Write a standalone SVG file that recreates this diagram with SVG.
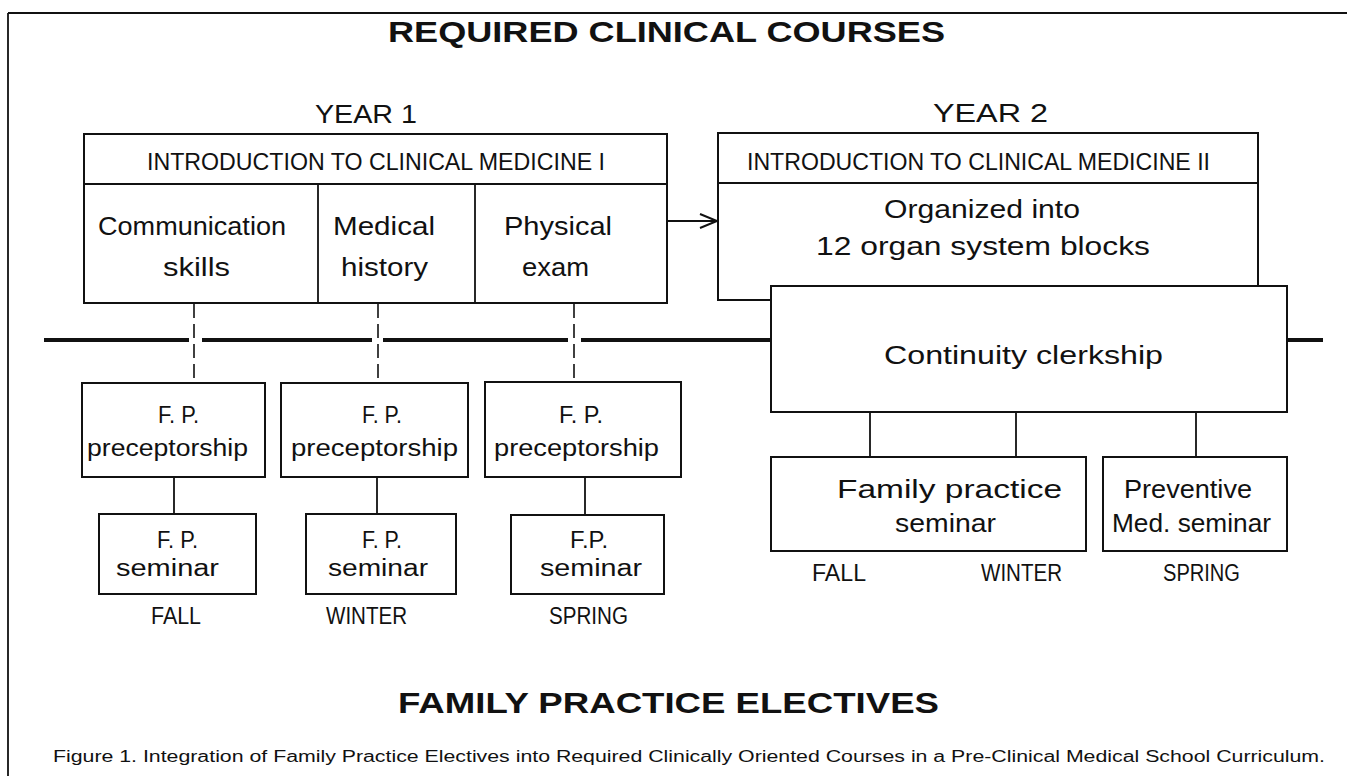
<svg xmlns="http://www.w3.org/2000/svg" width="1347" height="776" viewBox="0 0 1347 776">
<style>
  .box { fill: #fff; stroke: #111; stroke-width: 2; }
  .ln { stroke: #111; stroke-width: 1.8; fill: none; }
  .dash { stroke: #111; stroke-width: 1.6; stroke-dasharray: 14 6; fill: none; }
  .thick { stroke: #111; stroke-width: 4; fill: none; }
  .t { font-family: "Liberation Sans", "DejaVu Sans", sans-serif; font-size: 25px; fill: #111; }
  .s { font-family: "Liberation Sans", "DejaVu Sans", sans-serif; font-size: 23px; fill: #111; }
  .hd { font-family: "Liberation Sans", "DejaVu Sans", sans-serif; font-size: 24px; fill: #111; }
  .big { font-family: "Liberation Sans", "Arial", sans-serif; font-size: 30px; font-weight: bold; fill: #111; }
  .cap { font-family: "Liberation Sans", "Arial", sans-serif; font-size: 16px; fill: #111; }
</style>
<defs>
  <marker id="open" markerWidth="20" markerHeight="16" refX="18" refY="8" orient="auto" markerUnits="userSpaceOnUse">
    <path d="M1,1 L18,8 L1,15" fill="none" stroke="#111" stroke-width="2"/>
  </marker>
</defs>

<!-- frame -->
<g id="frame">
  <line class="ln" x1="8" y1="13" x2="1347" y2="13"/>
  <line class="ln" x1="8" y1="13" x2="8" y2="776"/>
</g>

<!-- titles -->
<text class="big" x="388" y="42" textLength="557" lengthAdjust="spacingAndGlyphs">REQUIRED  CLINICAL  COURSES</text>
<text class="t" x="315" y="123" textLength="102" lengthAdjust="spacingAndGlyphs">YEAR 1</text>
<text class="t" x="933" y="122" textLength="115" lengthAdjust="spacingAndGlyphs">YEAR 2</text>

<!-- connectors -->
<g id="connectors">
  <line class="thick" x1="44" y1="340" x2="189" y2="340"/>
  <line class="thick" x1="202" y1="340" x2="372" y2="340"/>
  <line class="thick" x1="383" y1="340" x2="568" y2="340"/>
  <line class="thick" x1="581" y1="340" x2="771" y2="340"/>
  <line class="thick" x1="1287" y1="340" x2="1323" y2="340"/>
  <line class="dash" x1="194" y1="304" x2="194" y2="383"/>
  <line class="dash" x1="378" y1="304" x2="378" y2="383"/>
  <line class="dash" x1="574" y1="304" x2="574" y2="382"/>
  <line class="ln" x1="174" y1="477" x2="174" y2="514"/>
  <line class="ln" x1="377" y1="477" x2="377" y2="514"/>
  <line class="ln" x1="585" y1="477" x2="585" y2="515"/>
  <line class="ln" x1="870" y1="412" x2="870" y2="457"/>
  <line class="ln" x1="1016" y1="412" x2="1016" y2="457"/>
  <line class="ln" x1="1196" y1="412" x2="1196" y2="457"/>
  <line class="ln" x1="667" y1="221" x2="717" y2="221" marker-end="url(#open)"/>
</g>

<!-- Year 1 -->
<g id="icm1">
  <rect class="box" x="84" y="134" width="583" height="169"/>
  <line class="ln" x1="84" y1="184" x2="667" y2="184"/>
  <line class="ln" x1="318" y1="184" x2="318" y2="303"/>
  <line class="ln" x1="475" y1="184" x2="475" y2="303"/>
  <text class="hd" x="147" y="170" textLength="458" lengthAdjust="spacingAndGlyphs">INTRODUCTION TO CLINICAL MEDICINE I</text>
  <text class="t" x="98" y="235" textLength="188" lengthAdjust="spacingAndGlyphs">Communication</text>
  <text class="t" x="163" y="276" textLength="67" lengthAdjust="spacingAndGlyphs">skills</text>
  <text class="t" x="333" y="235" textLength="102" lengthAdjust="spacingAndGlyphs">Medical</text>
  <text class="t" x="341" y="276" textLength="87" lengthAdjust="spacingAndGlyphs">history</text>
  <text class="t" x="504" y="235" textLength="108" lengthAdjust="spacingAndGlyphs">Physical</text>
  <text class="t" x="522" y="276" textLength="67" lengthAdjust="spacingAndGlyphs">exam</text>
</g>

<!-- Year 2 -->
<g id="icm2">
  <rect class="box" x="718" y="133" width="540" height="167"/>
  <line class="ln" x1="718" y1="183" x2="1258" y2="183"/>
  <text class="hd" x="747" y="170" textLength="463" lengthAdjust="spacingAndGlyphs">INTRODUCTION TO CLINICAL MEDICINE II</text>
  <text class="t" x="884" y="218" textLength="196" lengthAdjust="spacingAndGlyphs">Organized  into</text>
  <text class="t" x="816" y="255" textLength="334" lengthAdjust="spacingAndGlyphs">12  organ  system  blocks</text>
</g>

<g id="continuity">
  <rect class="box" x="771" y="286" width="516" height="126"/>
  <text class="t" x="884" y="364" textLength="279" lengthAdjust="spacingAndGlyphs">Continuity  clerkship</text>
</g>

<!-- preceptorships -->
<g id="precep1">
  <rect class="box" x="82" y="383" width="183" height="94"/>
  <text class="s" x="158" y="423" textLength="41" lengthAdjust="spacingAndGlyphs">F. P.</text>
  <text class="s" x="87" y="456" textLength="161" lengthAdjust="spacingAndGlyphs">preceptorship</text>
</g>
<g id="precep2">
  <rect class="box" x="281" y="383" width="187" height="94"/>
  <text class="s" x="362" y="423" textLength="40" lengthAdjust="spacingAndGlyphs">F. P.</text>
  <text class="s" x="291" y="456" textLength="167" lengthAdjust="spacingAndGlyphs">preceptorship</text>
</g>
<g id="precep3">
  <rect class="box" x="485" y="382" width="196" height="95"/>
  <text class="s" x="559" y="423" textLength="44" lengthAdjust="spacingAndGlyphs">F. P.</text>
  <text class="s" x="494" y="456" textLength="165" lengthAdjust="spacingAndGlyphs">preceptorship</text>
</g>

<!-- seminars -->
<g id="sem1">
  <rect class="box" x="99" y="514" width="157" height="80"/>
  <text class="s" x="157" y="548" textLength="41" lengthAdjust="spacingAndGlyphs">F. P.</text>
  <text class="s" x="116" y="576" textLength="103" lengthAdjust="spacingAndGlyphs">seminar</text>
</g>
<g id="sem2">
  <rect class="box" x="306" y="514" width="150" height="80"/>
  <text class="s" x="362" y="548" textLength="40" lengthAdjust="spacingAndGlyphs">F. P.</text>
  <text class="s" x="328" y="576" textLength="100" lengthAdjust="spacingAndGlyphs">seminar</text>
</g>
<g id="sem3">
  <rect class="box" x="511" y="515" width="153" height="79"/>
  <text class="s" x="570" y="548" textLength="38" lengthAdjust="spacingAndGlyphs">F.P.</text>
  <text class="s" x="540" y="576" textLength="102" lengthAdjust="spacingAndGlyphs">seminar</text>
</g>

<g id="seasons1">
  <text class="s" x="151" y="624" textLength="50" lengthAdjust="spacingAndGlyphs">FALL</text>
  <text class="s" x="326" y="624" textLength="81" lengthAdjust="spacingAndGlyphs">WINTER</text>
  <text class="s" x="549" y="624" textLength="79" lengthAdjust="spacingAndGlyphs">SPRING</text>
</g>

<g id="fpseminar">
  <rect class="box" x="771" y="457" width="315" height="94"/>
  <text class="t" x="837" y="498" textLength="225" lengthAdjust="spacingAndGlyphs">Family  practice</text>
  <text class="t" x="895" y="532" textLength="101" lengthAdjust="spacingAndGlyphs">seminar</text>
</g>
<g id="pmseminar">
  <rect class="box" x="1103" y="457" width="184" height="94"/>
  <text class="t" x="1124" y="498" textLength="128" lengthAdjust="spacingAndGlyphs">Preventive</text>
  <text class="t" x="1112" y="532" textLength="159" lengthAdjust="spacingAndGlyphs">Med. seminar</text>
</g>

<g id="seasons2">
  <text class="s" x="812" y="581" textLength="54" lengthAdjust="spacingAndGlyphs">FALL</text>
  <text class="s" x="981" y="581" textLength="81" lengthAdjust="spacingAndGlyphs">WINTER</text>
  <text class="s" x="1163" y="581" textLength="77" lengthAdjust="spacingAndGlyphs">SPRING</text>
</g>

<text class="big" x="398" y="713" textLength="541" lengthAdjust="spacingAndGlyphs">FAMILY  PRACTICE  ELECTIVES</text>
<text class="cap" x="53" y="762" textLength="1272" lengthAdjust="spacingAndGlyphs">Figure 1. Integration of Family Practice Electives into Required Clinically Oriented Courses in a Pre-Clinical Medical School Curriculum.</text>
</svg>
